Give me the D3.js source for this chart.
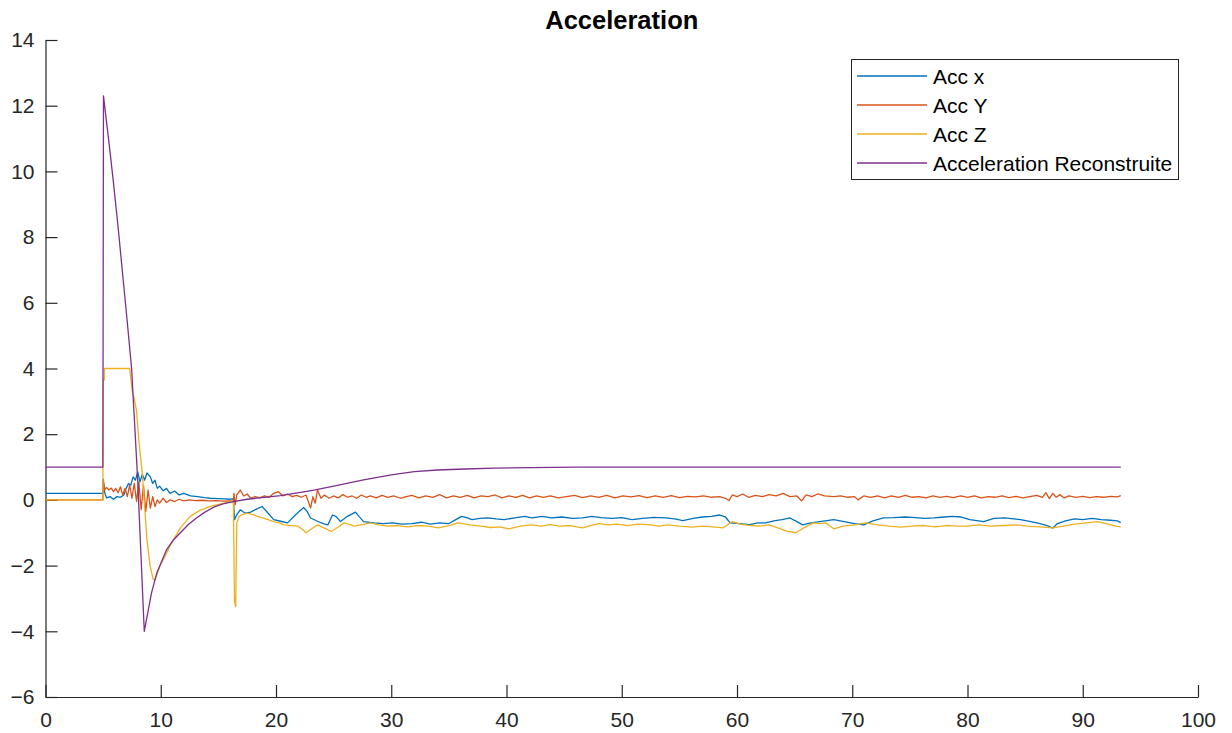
<!DOCTYPE html>
<html>
<head>
<meta charset="utf-8">
<script src="https://cdn.jsdelivr.net/npm/d3@7"></script>
<style>
  body { margin: 0; background: #ffffff; }
  svg { display: block; font-family: "Liberation Sans", Arial, Helvetica, sans-serif; }
</style>
</head>
<body>
<svg id="chart" width="1232" height="733"></svg>
<script>
// Series: [time, value]
var accX = [[0,0.2],[4.98,0.2],[5.02,0.63],[5.15,0.2],[5.3,0.06],[5.6,0.1],[5.9,0.02],[6.2,0.1],[6.5,0.08],[6.8,0.15],[7.0,0.35],[7.2,0.5],[7.4,0.45],[7.6,0.7],[7.8,0.6],[8.0,0.85],[8.2,0.55],[8.4,0.78],[8.6,0.6],[8.8,0.82],[9.1,0.7],[9.3,0.5],[9.5,0.6],[9.7,0.35],[9.9,0.42],[10.2,0.28],[10.5,0.35],[10.8,0.2],[11.2,0.27],[11.6,0.15],[12.0,0.2],[12.6,0.12],[13.2,0.1],[13.8,0.07],[14.3,0.05],[15.0,0.04],[15.6,0.03],[16.0,0.02],[16.3,0.03],[16.4,-0.6],[16.6,-0.45],[16.9,-0.3],[17.3,-0.4],[17.8,-0.37],[18.3,-0.28],[18.8,-0.2],[19.3,-0.4],[19.8,-0.6],[20.4,-0.65],[21.0,-0.7],[21.7,-0.45],[22.4,-0.23],[22.7,-0.35],[23.0,-0.55],[23.6,-0.65],[24.1,-0.72],[24.5,-0.76],[24.9,-0.46],[25.2,-0.5],[25.6,-0.66],[26.2,-0.5],[26.9,-0.37],[27.2,-0.5],[27.6,-0.66],[28.5,-0.7],[29.3,-0.72],[30.1,-0.7],[30.9,-0.74],[31.8,-0.72],[32.6,-0.68],[33.4,-0.74],[34.2,-0.7],[35.0,-0.72],[35.6,-0.6],[36.1,-0.5],[36.6,-0.55],[37.0,-0.6],[37.7,-0.56],[38.4,-0.55],[39.1,-0.58],[39.8,-0.6],[40.7,-0.55],[41.6,-0.5],[42.2,-0.55],[43.1,-0.5],[43.9,-0.55],[44.8,-0.52],[45.7,-0.56],[46.6,-0.55],[47.4,-0.5],[48.2,-0.54],[49.2,-0.56],[50.0,-0.54],[50.9,-0.6],[51.8,-0.56],[52.8,-0.53],[53.8,-0.55],[54.6,-0.58],[55.3,-0.63],[56.2,-0.56],[57.0,-0.52],[57.8,-0.5],[58.5,-0.46],[59.0,-0.52],[59.4,-0.7],[60.2,-0.72],[61.1,-0.75],[61.8,-0.7],[62.5,-0.7],[63.2,-0.64],[63.9,-0.6],[64.6,-0.55],[65.2,-0.66],[65.7,-0.76],[66.4,-0.7],[67.2,-0.66],[68.4,-0.6],[69.3,-0.66],[70.2,-0.72],[71.0,-0.76],[71.8,-0.64],[72.7,-0.55],[73.6,-0.54],[74.6,-0.52],[75.5,-0.54],[76.3,-0.56],[77.1,-0.55],[78.0,-0.52],[78.7,-0.5],[79.4,-0.52],[80.2,-0.6],[81.4,-0.66],[82.3,-0.56],[83.2,-0.55],[84.0,-0.58],[84.6,-0.6],[85.5,-0.66],[86.3,-0.72],[86.9,-0.78],[87.4,-0.86],[87.8,-0.72],[88.5,-0.64],[89.3,-0.58],[90.0,-0.6],[90.8,-0.56],[91.6,-0.6],[92.4,-0.62],[93.0,-0.64],[93.3,-0.69]];

var accY = [[0,0],[4.98,0],[5.0,0.6],[5.1,0.3],[5.3,0.38],[5.5,0.3],[5.7,0.36],[5.9,0.25],[6.1,0.35],[6.3,0.22],[6.5,0.4],[6.7,0.15],[6.9,0.35],[7.1,0.1],[7.3,0.45],[7.5,0.05],[7.7,0.5],[7.9,-0.05],[8.1,0.55],[8.3,-0.3],[8.5,0.45],[8.7,-0.35],[8.9,0.3],[9.1,-0.25],[9.3,0.1],[9.5,-0.2],[9.7,0.0],[9.9,-0.1],[10.2,0.05],[10.5,-0.08],[10.8,0.0],[11.2,-0.05],[11.6,0.02],[12.0,-0.03],[12.5,0.0],[13.0,-0.02],[13.6,-0.01],[14.2,-0.03],[14.8,-0.02],[15.4,-0.04],[16.0,-0.03],[16.3,-0.05],[16.35,0.2],[16.45,-0.15],[16.6,0.15],[16.9,0.3],[17.2,0.12],[17.5,0.18],[17.8,0.05],[18.2,0.1],[18.6,0.06],[19.0,0.12],[19.4,0.08],[19.8,0.2],[20.2,0.25],[20.6,0.12],[21.0,0.18],[21.4,0.1],[21.8,0.14],[22.2,0.08],[22.6,0.15],[23.0,-0.25],[23.2,0.1],[23.4,-0.1],[23.6,0.3],[23.9,0.05],[24.2,0.15],[24.6,0.05],[25.0,0.12],[25.4,0.06],[25.8,0.16],[26.2,0.08],[26.6,0.12],[27.0,0.05],[27.4,0.15],[27.8,0.08],[28.2,0.12],[28.7,0.06],[29.2,0.14],[29.7,0.08],[30.2,0.12],[30.8,0.05],[31.3,0.1],[31.8,0.14],[32.4,0.06],[33.0,0.12],[33.6,0.08],[34.2,0.16],[34.8,0.06],[35.4,0.12],[36.0,0.08],[36.6,0.14],[37.2,0.06],[37.8,0.12],[38.4,0.1],[39.0,0.15],[39.6,0.06],[40.2,0.12],[40.8,0.08],[41.4,0.14],[42.0,0.06],[42.6,0.12],[43.2,0.08],[43.8,0.12],[44.5,0.06],[45.2,0.1],[45.9,0.14],[46.6,0.07],[47.3,0.12],[48.0,0.08],[48.7,0.14],[49.4,0.06],[50.1,0.12],[50.8,0.09],[51.5,0.13],[52.2,0.07],[52.9,0.12],[53.6,0.08],[54.3,0.13],[55.0,0.07],[55.7,0.11],[56.4,0.09],[57.1,0.12],[57.8,0.08],[58.5,0.1],[59.0,0.05],[59.3,-0.02],[59.6,0.15],[60.0,0.1],[60.5,0.18],[61.0,0.08],[61.6,0.14],[62.2,0.1],[62.8,0.16],[63.4,0.12],[64.0,0.2],[64.6,0.1],[65.2,0.12],[65.6,-0.03],[66.0,0.15],[66.5,0.1],[67.0,0.18],[67.6,0.12],[68.4,0.1],[69.0,0.12],[69.6,0.08],[70.2,0.1],[70.5,0.0],[71.0,0.12],[71.6,0.08],[72.2,0.12],[72.8,0.06],[73.4,0.12],[74.0,0.08],[74.6,0.14],[75.2,0.08],[75.8,0.1],[76.4,0.06],[77.0,0.12],[77.6,0.08],[78.2,0.11],[78.8,0.07],[79.4,0.12],[80.0,0.08],[80.6,0.12],[81.2,0.06],[81.8,0.1],[82.4,0.08],[83.0,0.12],[83.6,0.07],[84.2,0.11],[84.8,0.06],[85.4,0.1],[86.0,0.14],[86.5,0.08],[86.8,0.22],[87.1,0.04],[87.4,0.2],[87.7,0.08],[88.0,0.16],[88.4,0.06],[88.8,0.12],[89.4,0.08],[90.0,0.11],[90.6,0.07],[91.2,0.1],[91.8,0.08],[92.4,0.11],[93.0,0.09],[93.3,0.13]];

var accZ = [[0,0],[4.98,0],[5.0,3.65],[5.1,3.65],[5.12,4.0],[7.3,4.0],[7.55,3.25],[7.7,3.1],[7.9,2.7],[8.1,1.8],[8.4,0.8],[8.6,-0.2],[8.8,-1.2],[9.07,-2.0],[9.33,-2.4],[9.5,-2.45],[9.94,-2.0],[10.4,-1.7],[10.8,-1.4],[11.7,-0.85],[12.55,-0.5],[13.4,-0.32],[14.3,-0.2],[15.2,-0.12],[16.0,-0.06],[16.3,-0.05],[16.4,-3.1],[16.5,-3.25],[16.6,-0.7],[16.8,-0.5],[17.1,-0.45],[17.5,-0.4],[18.0,-0.45],[18.4,-0.5],[19.1,-0.58],[19.8,-0.66],[20.3,-0.7],[20.7,-0.76],[21.3,-0.78],[21.9,-0.8],[22.3,-0.9],[22.6,-1.0],[23.1,-0.88],[23.6,-0.76],[24.2,-0.86],[24.8,-0.96],[25.3,-0.85],[25.9,-0.7],[26.3,-0.74],[26.8,-0.8],[27.5,-0.75],[28.2,-0.7],[28.9,-0.76],[29.7,-0.8],[30.5,-0.78],[31.4,-0.82],[32.3,-0.78],[33.2,-0.8],[34.1,-0.85],[35.0,-0.78],[35.8,-0.7],[36.8,-0.76],[37.8,-0.8],[38.6,-0.84],[39.4,-0.82],[40.2,-0.88],[41.2,-0.8],[42.2,-0.76],[43.0,-0.8],[43.8,-0.75],[44.6,-0.8],[45.5,-0.78],[46.6,-0.85],[47.3,-0.78],[48.0,-0.72],[48.8,-0.76],[49.6,-0.74],[50.5,-0.78],[51.4,-0.74],[52.4,-0.75],[53.2,-0.8],[54.0,-0.76],[55.0,-0.8],[56.1,-0.83],[57.0,-0.8],[57.9,-0.82],[58.8,-0.85],[59.6,-0.66],[60.3,-0.74],[61.2,-0.78],[62.0,-0.8],[62.8,-0.76],[63.6,-0.86],[64.3,-0.95],[65.1,-1.0],[65.8,-0.85],[66.6,-0.7],[67.2,-0.72],[67.7,-0.7],[68.4,-0.88],[69.2,-0.8],[70.2,-0.76],[71.2,-0.7],[72.2,-0.76],[73.2,-0.8],[74.2,-0.83],[75.2,-0.8],[76.2,-0.78],[77.2,-0.82],[78.2,-0.78],[79.1,-0.8],[80.0,-0.8],[81.0,-0.76],[82.0,-0.8],[83.2,-0.78],[84.3,-0.76],[85.2,-0.8],[86.3,-0.82],[87.4,-0.85],[88.3,-0.8],[89.3,-0.74],[90.3,-0.7],[91.3,-0.66],[92.2,-0.74],[92.9,-0.8],[93.3,-0.82]];

var accRec = [[0,1],[4.98,1],[5.03,12.3],[5.5,10.9],[5.87,9.74],[6.3,8.3],[6.74,6.7],[7.1,5.4],[7.47,4.0],[8.0,0.6],[8.57,-4.0],[9.2,-2.83],[9.65,-2.23],[10.5,-1.52],[11.1,-1.22],[11.7,-1.0],[12.4,-0.75],[13.1,-0.55],[13.8,-0.38],[14.6,-0.22],[15.4,-0.12],[16.3,-0.05],[17.5,0.02],[19.0,0.08],[20.4,0.13],[22.0,0.22],[23.3,0.3],[25.0,0.42],[27.6,0.61],[30.0,0.76],[32.0,0.86],[34.0,0.91],[36.4,0.94],[39.0,0.97],[42.2,0.98],[46.0,0.995],[50.0,1.0],[93.3,1.0]];

var seriesNames = ["Acc x", "Acc Y", "Acc Z", "Acceleration Reconstruite"];
var seriesColors = ["#0072BD", "#D95319", "#EDB120", "#7E2F8E"];
var xTicks = [0, 10, 20, 30, 40, 50, 60, 70, 80, 90, 100];
var yTicks = [-6, -4, -2, 0, 2, 4, 6, 8, 10, 12, 14];

var allSeries = [accX, accY, accZ, accRec];

var svg = d3.select("#chart");

// plot area (don't call it "top", window.top is read-only)
var plotLeft = 45.5, plotRight = 1198, plotTop = 40, plotBottom = 697;

var x = d3.scaleLinear().domain([0, 100]).range([plotLeft, plotRight]);
var y = d3.scaleLinear().domain([-6, 14]).range([plotBottom, plotTop]);

// title
svg.append("text")
    .attr("x", (plotLeft + plotRight) / 2)
    .attr("y", 29)
    .attr("text-anchor", "middle")
    .style("font-size", "25.5px")
    .style("font-weight", "bold")
    .style("fill", "#000")
    .text("Acceleration");

// axes, ticks pointing inwards like MATLAB
var xAxis = svg.append("g")
    .attr("transform", "translate(0," + plotBottom + ")")
    .call(d3.axisBottom(x).tickValues(xTicks).tickSizeInner(-12).tickSizeOuter(0).tickPadding(15));

var yAxis = svg.append("g")
    .attr("transform", "translate(" + plotLeft + ",0)")
    .call(d3.axisLeft(y).tickValues(yTicks).tickSizeInner(-12).tickSizeOuter(0).tickPadding(11));

[xAxis, yAxis].forEach(function(ax) {
    ax.select(".domain").attr("stroke", "#262626").attr("stroke-width", 1.2);
    ax.selectAll(".tick line").attr("stroke", "#262626").attr("stroke-width", 1.2);
    ax.selectAll(".tick text")
        .style("font-size", "21px")
        .style("font-family", "'Liberation Sans', Arial, sans-serif")
        .attr("fill", "#262626");
});

// lines
var line = d3.line()
    .x(function(d) { return x(d[0]); })
    .y(function(d) { return y(d[1]); });

svg.append("g").selectAll("path")
    .data(allSeries)
    .enter()
    .append("path")
    .attr("d", line)
    .attr("fill", "none")
    .attr("stroke", function(d, i) { return seriesColors[i]; })
    .attr("stroke-width", 1.3)
    .attr("stroke-linejoin", "round");

// legend
var legend = svg.append("g");
legend.append("rect")
    .attr("x", 851.5)
    .attr("y", 59.5)
    .attr("width", 327)
    .attr("height", 120)
    .attr("fill", "#fff")
    .attr("stroke", "#262626")
    .attr("stroke-width", 1);

var rows = legend.selectAll("g.row")
    .data(seriesNames)
    .enter()
    .append("g")
    .attr("class", "row")
    .attr("transform", function(d, i) { return "translate(0," + (76 + i * 29) + ")"; });

rows.append("line")
    .attr("x1", 857).attr("x2", 927)
    .attr("y1", 0).attr("y2", 0)
    .attr("stroke", function(d, i) { return seriesColors[i]; })
    .attr("stroke-width", 1.3);

rows.append("text")
    .attr("x", 933)
    .attr("y", 0)
    .attr("dy", "0.36em")
    .style("font-size", "21px")
    .style("fill", "#000")
    .text(function(d) { return d; });
</script>
</body>
</html>
